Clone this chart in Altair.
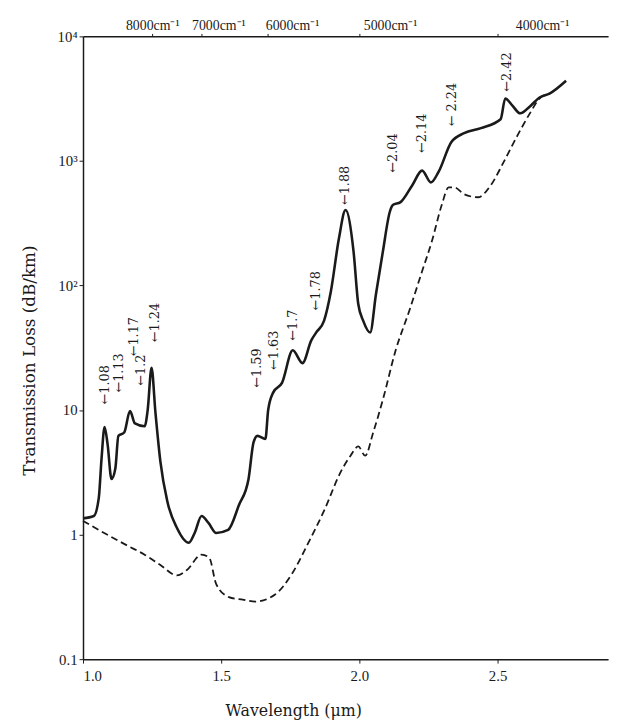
import altair as alt
import pandas as pd

# Solid curve: fiber spectral loss (wavelength um, loss dB/km)
solid_wl = [1.0, 1.039, 1.057, 1.067, 1.078, 1.089, 1.103, 1.117, 1.128, 1.149, 1.170, 1.188,
            1.223, 1.234, 1.248, 1.262, 1.280, 1.305, 1.340, 1.383, 1.404, 1.429, 1.454, 1.482,
            1.525, 1.564, 1.599, 1.617, 1.631, 1.660, 1.670, 1.688, 1.720, 1.759, 1.794, 1.826,
            1.844, 1.872, 1.897, 1.926, 1.950, 1.979, 1.996, 2.014, 2.039, 2.060, 2.085, 2.110,
            2.121, 2.149, 2.191, 2.227, 2.259, 2.287, 2.333, 2.379, 2.440, 2.511, 2.528, 2.553,
            2.582, 2.617, 2.652, 2.688, 2.748]
solid_loss = [1.35, 1.41, 1.96, 4.06, 7.3, 5.3, 2.8, 3.4, 6.2, 6.6, 9.8, 7.8,
              7.4, 10.0, 21.8, 9.6, 3.85, 1.85, 1.13, 0.86, 1.03, 1.41, 1.24, 1.03,
              1.09, 1.72, 2.8, 5.5, 6.2, 5.85, 10.0, 13.8, 16.5, 30.2, 23.8, 36.3,
              42, 52, 90, 238, 403, 187, 71, 52, 42, 85, 187, 389,
              442, 467, 636, 836, 672, 821, 1420, 1672, 1833, 2160, 3170, 2790,
              2410, 2740, 3230, 3470, 4400]

# Dashed curve
dash_wl = [1.0, 1.057, 1.163, 1.223, 1.280, 1.340, 1.376, 1.429, 1.457, 1.482, 1.528, 1.578,
           1.624, 1.695, 1.755, 1.812, 1.872, 1.933, 1.968, 1.996, 2.021, 2.050, 2.085, 2.131,
           2.181, 2.227, 2.262, 2.298, 2.323, 2.344, 2.379, 2.429, 2.475, 2.521, 2.571, 2.617,
           2.652, 2.688]
dash_loss = [1.29, 1.09, 0.81, 0.69, 0.57, 0.47, 0.52, 0.69, 0.65, 0.40, 0.315, 0.30,
             0.29, 0.33, 0.48, 0.83, 1.55, 3.2, 4.3, 5.1, 4.3, 6.6, 12.1, 30,
             63, 130, 225, 442, 613, 613, 540, 511, 636, 968, 1585, 2410,
             3170, 3470]

# Absorption peak annotations
peak_labels = ["1.08", "1.13", "1.17", "1.2", "1.24", "1.59", "1.63", "1.7", "1.78",
               "1.88", "2.04", "2.14", "2.24", "2.42"]
peak_wl = [1.078, 1.131, 1.184, 1.209, 1.259, 1.631, 1.691, 1.759, 1.844,
           1.950, 2.121, 2.227, 2.337, 2.535]
peak_loss = [11.1, 13.8, 27, 15.7, 35, 15.1, 21, 36, 63,
             442, 805, 1160, 1900, 3600]

# Top axis: wavenumbers (cm^-1)
top_wavenumbers = [8000, 7000, 6000, 5000, 4000]

solid_df = pd.DataFrame({"wl": solid_wl, "loss": solid_loss})
dash_df = pd.DataFrame({"wl": dash_wl, "loss": dash_loss})
peak_df = pd.DataFrame({"wl": peak_wl, "loss": peak_loss,
                        "label": ["\u2190" + ("  " if l == "2.24" else "") + l for l in peak_labels]})

xscale = alt.Scale(domain=[1.0, 2.9], nice=False, zero=False)
yscale = alt.Scale(type="log", domain=[0.1, 10000], nice=False)

ink = "#1a1a1a"

y_enc = alt.Y("loss:Q", scale=yscale,
              axis=alt.Axis(values=[0.1, 1, 10, 100, 1000, 10000],
                            labelExpr="datum.value >= 10000 ? '10\u2074' : datum.value >= 1000 ? '10\u00b3' : datum.value >= 100 ? '10\u00b2' : datum.value >= 10 ? '10' : datum.value >= 1 ? '1' : '0.1'",
                            title="Transmission Loss (dB/km)",
                            titleFontSize=17, titleFontWeight="normal",
                            titleX=-54, titleY=328, titleAngle=270,
                            titleAlign="center", titleBaseline="middle",
                            labelFontSize=15, tickSize=4, labelPadding=2))

x_bottom = alt.X("wl:Q", scale=xscale,
                 axis=alt.Axis(values=[1.0, 1.5, 2.0, 2.5], format=".1f",
                               title="Wavelength (\u03bcm)", titleFontSize=16,
                               titleFontWeight="normal",
                               titleX=213, titleY=44, titleAlign="center",
                               titleBaseline="top",
                               labelFontSize=15, tickSize=4, labelPadding=6))

solid = alt.Chart(solid_df).mark_line(color=ink, strokeWidth=2.6, interpolate="monotone").encode(
    x=x_bottom, y=y_enc)

dashed = alt.Chart(dash_df).mark_line(color=ink, strokeWidth=1.8, strokeDash=[7, 4],
                                      interpolate="monotone").encode(
    x=alt.X("wl:Q", scale=xscale, axis=None), y=alt.Y("loss:Q", scale=yscale))

x_top = alt.X("wl:Q", scale=xscale,
              axis=alt.Axis(orient="top", values=[10000 / w for w in top_wavenumbers],
                            labelExpr="round(10000 / datum.value) + 'cm\u207b\u00b9'",
                            title=None, labelFontSize=14, tickSize=3, labelPadding=1,
                            labelAlign="left",
                            labelOffset=alt.ExprRef(expr="datum.value < 1.3 ? -27 : datum.value < 1.5 ? -10 : datum.value < 1.8 ? -2 : datum.value < 2.2 ? 4 : 18")))

labels = alt.Chart(peak_df).mark_text(angle=270, align="left", baseline="middle",
                                      font="DejaVu Serif", fontSize=13, color=ink).encode(
    x=x_top, y=alt.Y("loss:Q", scale=yscale), text="label:N")

chart = alt.layer(solid, dashed, labels).resolve_scale(x="independent").properties(
    width=532, height=631,
    autosize=alt.AutoSizeParams(type="none"),
    padding={"left": 76, "top": 24, "right": 7, "bottom": 64},
).configure_view(stroke=None).configure_axis(
    grid=False, domainColor=ink, tickColor=ink, labelColor=ink, titleColor=ink,
    labelFont="Liberation Serif", titleFont="DejaVu Serif", domainWidth=1.5
)

chart.save("out.html", embed_options={"renderer": "svg", "actions": False})
